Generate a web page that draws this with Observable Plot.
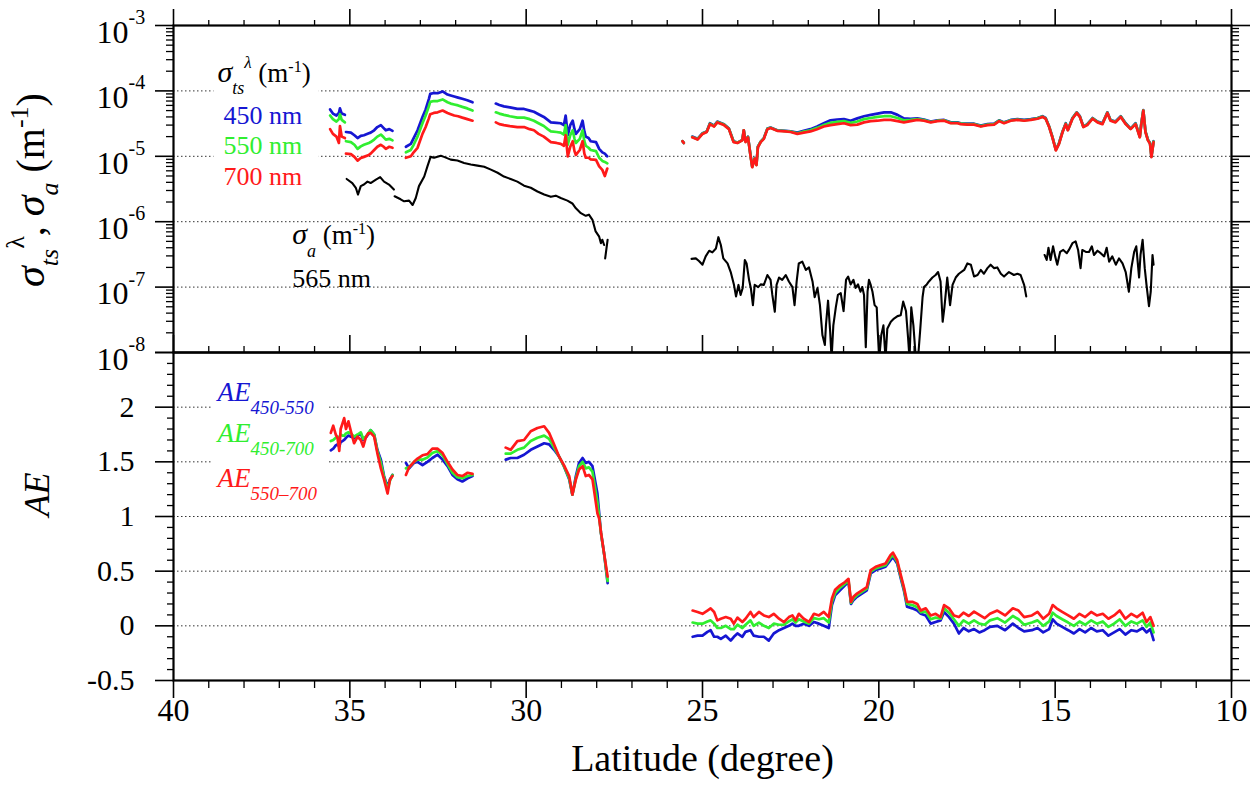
<!DOCTYPE html>
<html><head><meta charset="utf-8">
<script src="https://cdn.jsdelivr.net/npm/d3@7"></script>
<script src="https://cdn.jsdelivr.net/npm/@observablehq/plot@0.6"></script>
<style>
html,body{margin:0;padding:0;background:#fff;}
#wrap{position:relative;width:1260px;height:794px;overflow:hidden;background:#fff;}
#top{position:absolute;left:0;top:0;z-index:2;}
#bot{position:absolute;left:0;top:351px;z-index:1;}
</style></head><body><div id="wrap"><div id="top"></div><div id="bot"></div></div>
<script>
// ---------------- axis ticks / labels ----------------
const xMajor = [40, 35, 30, 25, 20, 15, 10];
const xLabels = ["40", "35", "30", "25", "20", "15", "10"];
const xMinor = [39,38,37,36,34,33,32,31,29,28,27,26,24,23,22,21,19,18,17,16,14,13,12,11];
const yTopMajor = [1e-8, 1e-7, 1e-6, 1e-5, 1e-4, 1e-3];
const yTopBase = ["10", "10", "10", "10", "10", "10"];
const yTopExp = ["-8", "-7", "-6", "-5", "-4", "-3"];
const gridTop = [1e-7, 1e-6, 1e-5, 1e-4];
const yBotMajor = [-0.5, 0, 0.5, 1, 1.5, 2, 2.5];
const yBotLabelVals = [-0.5, 0, 0.5, 1, 1.5, 2];
const yBotLabels = ["-0.5", "0", "0.5", "1", "1.5", "2"];
const gridBot = [0, 0.5, 1, 1.5, 2];

// ---------------- sigma_ts (scattering), left segments ----------------
const latA = [35.56, 35.48, 35.38, 35.31, 35.28, 35.23, 35.14];
const s450A = [5.2e-5, 4.5e-5, 4.2e-5, 4.6e-5, 5.4e-5, 4.5e-5, 4.3e-5];
const s550A = [4.2e-5, 3.7e-5, 3.4e-5, 3.7e-5, 4.4e-5, 3.6e-5, 3.3e-5];
const s700A = [2.6e-5, 2.2e-5, 2.0e-5, 1.6e-5, 2.9e-5, 2.0e-5, 1.9e-5];

const latB = [35.11, 34.97, 34.87, 34.78, 34.69, 34.60, 34.46, 34.41, 34.31, 34.22, 34.12, 34.04, 33.98, 33.88, 33.79];
const s450B = [2.35e-5, 2.3e-5, 2.1e-5, 1.9e-5, 2.05e-5, 2.1e-5, 2.25e-5, 2.3e-5, 2.5e-5, 2.8e-5, 3.0e-5, 2.7e-5, 2.5e-5, 2.6e-5, 2.45e-5];
const s550B = [1.7e-5, 1.65e-5, 1.5e-5, 1.3e-5, 1.42e-5, 1.5e-5, 1.6e-5, 1.65e-5, 1.8e-5, 2.0e-5, 2.15e-5, 1.95e-5, 1.8e-5, 1.85e-5, 1.75e-5];
const s700B = [1.1e-5, 1.08e-5, 9.8e-6, 8.6e-6, 9.4e-6, 9.8e-6, 1.05e-5, 1.1e-5, 1.25e-5, 1.4e-5, 1.5e-5, 1.4e-5, 1.3e-5, 1.4e-5, 1.35e-5];

const latC = [33.41, 33.27, 33.19, 33.08, 32.94, 32.85, 32.76, 32.72, 32.62, 32.51, 32.37, 32.23, 32.14, 32.04, 31.93, 31.81, 31.67, 31.52];
const s450C = [1.4e-5, 1.55e-5, 1.9e-5, 2.5e-5, 4.0e-5, 5.2e-5, 7.5e-5, 9.0e-5, 9.3e-5, 9.2e-5, 9.8e-5, 8.8e-5, 8.5e-5, 8.2e-5, 7.9e-5, 7.6e-5, 7.2e-5, 6.7e-5];
const s550C = [1.15e-5, 1.25e-5, 1.5e-5, 2.0e-5, 3.2e-5, 4.2e-5, 5.8e-5, 6.8e-5, 7.0e-5, 7.0e-5, 7.4e-5, 6.7e-5, 6.4e-5, 6.2e-5, 6.0e-5, 5.7e-5, 5.4e-5, 5.0e-5];
const s700C = [9.5e-6, 1.0e-5, 1.15e-5, 1.35e-5, 2.2e-5, 2.8e-5, 3.8e-5, 4.4e-5, 4.6e-5, 4.7e-5, 5.0e-5, 4.6e-5, 4.4e-5, 4.2e-5, 4.1e-5, 3.9e-5, 3.7e-5, 3.5e-5];

const latD = [30.86, 30.76, 30.63, 30.46, 30.25, 30.06, 29.90, 29.78, 29.65, 29.50, 29.39, 29.30, 29.14, 29.02, 28.93, 28.88, 28.82, 28.75, 28.68, 28.63, 28.59, 28.48, 28.40, 28.35, 28.31, 28.23, 28.17, 28.02, 27.93, 27.84, 27.77, 27.70];
const s450D = [6.4e-5, 6.1e-5, 5.8e-5, 5.6e-5, 5.3e-5, 5.3e-5, 5.0e-5, 4.8e-5, 4.4e-5, 4.0e-5, 3.6e-5, 3.3e-5, 3.25e-5, 3.2e-5, 3.0e-5, 4.2e-5, 2.1e-5, 3.0e-5, 3.5e-5, 2.6e-5, 2.2e-5, 2.6e-5, 3.5e-5, 2.4e-5, 2.0e-5, 1.9e-5, 1.7e-5, 1.65e-5, 1.3e-5, 1.15e-5, 1.1e-5, 1.0e-5];
const s550D = [4.7e-5, 4.5e-5, 4.3e-5, 4.1e-5, 3.9e-5, 3.9e-5, 3.7e-5, 3.5e-5, 3.2e-5, 2.9e-5, 2.6e-5, 2.4e-5, 2.35e-5, 2.3e-5, 2.15e-5, 3.0e-5, 1.5e-5, 2.1e-5, 2.5e-5, 1.85e-5, 1.6e-5, 1.85e-5, 2.5e-5, 1.7e-5, 1.45e-5, 1.35e-5, 1.25e-5, 1.2e-5, 9.5e-6, 8.5e-6, 8.2e-6, 7.8e-6];
const s700D = [3.3e-5, 3.1e-5, 3.0e-5, 2.9e-5, 2.8e-5, 2.8e-5, 2.6e-5, 2.5e-5, 2.2e-5, 2.0e-5, 1.8e-5, 1.65e-5, 1.6e-5, 1.55e-5, 1.45e-5, 2.1e-5, 1.0e-5, 1.4e-5, 1.7e-5, 1.2e-5, 1.05e-5, 1.25e-5, 1.7e-5, 1.1e-5, 9.5e-6, 9.5e-6, 9.0e-6, 8.8e-6, 7.0e-6, 6.2e-6, 5.0e-6, 6.5e-6];

// ---------------- sigma_ts, right segments ----------------
const latDot = [25.57, 25.53];
const s450Dot = [1.7e-5, 1.6e-5];
const s550Dot = [1.7e-5, 1.6e-5];
const s700Dot = [1.7e-5, 1.6e-5];

const latR = [25.29, 25.14, 25.0, 24.88, 24.79, 24.67, 24.58, 24.39, 24.25, 24.12,
  24.01, 23.87, 23.83, 23.78, 23.71, 23.64, 23.59, 23.52, 23.47, 23.43,
  23.35, 23.26, 23.16, 23.07, 22.88, 22.65, 22.5, 22.31, 22.13, 21.94,
  21.75, 21.56, 21.37, 21.18, 20.99, 20.8, 20.61, 20.42, 20.23, 20.04,
  19.85, 19.66, 19.47, 19.29, 19.1, 18.91, 18.72, 18.53, 18.34, 18.15,
  17.96, 17.77, 17.68, 17.49, 17.3, 17.11, 16.92, 16.73, 16.59, 16.45,
  16.26, 16.07, 15.88, 15.69, 15.5, 15.36, 15.27, 15.17, 15.08, 14.98,
  14.89, 14.79, 14.7, 14.64, 14.51, 14.39, 14.3, 14.2, 14.09, 13.94,
  13.8, 13.66, 13.52, 13.43, 13.29, 13.14, 13.0, 12.86, 12.72, 12.6,
  12.56, 12.5, 12.44, 12.37, 12.31, 12.27, 12.21];
const s700R = [1.95e-5, 1.8e-5, 2.2e-5, 2.35e-5, 3.1e-5, 2.85e-5, 3.3e-5, 3.0e-5, 2.6e-5, 1.65e-5,
  1.6e-5, 1.75e-5, 2.5e-5, 1.65e-5, 1.95e-5, 1.03e-5, 6.8e-6, 9.2e-6, 7.3e-6, 1.37e-5,
  1.65e-5, 1.85e-5, 2.6e-5, 2.7e-5, 2.45e-5, 2.4e-5, 2.35e-5, 2.2e-5, 2.3e-5, 2.4e-5,
  2.6e-5, 2.85e-5, 3.0e-5, 3.1e-5, 3.2e-5, 3.0e-5, 3.05e-5, 3.3e-5, 3.45e-5, 3.5e-5,
  3.6e-5, 3.6e-5, 3.45e-5, 3.3e-5, 3.45e-5, 3.6e-5, 3.5e-5, 3.3e-5, 3.45e-5, 3.5e-5,
  3.2e-5, 3.2e-5, 3.1e-5, 3.05e-5, 3.05e-5, 2.85e-5, 3.0e-5, 3.05e-5, 3.45e-5, 3.2e-5,
  3.5e-5, 3.6e-5, 3.5e-5, 3.6e-5, 3.75e-5, 4.0e-5, 3.75e-5, 2.8e-5, 1.95e-5, 1.23e-5,
  1.55e-5, 2.35e-5, 3.1e-5, 2.5e-5, 3.75e-5, 4.6e-5, 4.0e-5, 2.8e-5, 3.0e-5, 3.75e-5,
  3.3e-5, 3.1e-5, 4.6e-5, 3.5e-5, 3.3e-5, 4.0e-5, 3.1e-5, 2.6e-5, 3.1e-5, 1.95e-5,
  3.0e-5, 5.0e-5, 2.35e-5, 1.75e-5, 1.55e-5, 9.7e-6, 1.65e-5];
const s450R = [2.0e-5, 1.85e-5, 2.25e-5, 2.4e-5, 3.2e-5, 2.95e-5, 3.4e-5, 3.1e-5, 2.65e-5, 1.7e-5,
  1.62e-5, 1.78e-5, 2.5e-5, 1.7e-5, 2.0e-5, 1.05e-5, 7.0e-6, 9.4e-6, 7.5e-6, 1.4e-5,
  1.68e-5, 1.9e-5, 2.65e-5, 2.75e-5, 2.5e-5, 2.45e-5, 2.4e-5, 2.3e-5, 2.45e-5, 2.6e-5,
  2.85e-5, 3.2e-5, 3.55e-5, 3.65e-5, 3.7e-5, 3.5e-5, 3.8e-5, 4.1e-5, 4.3e-5, 4.5e-5,
  4.7e-5, 4.7e-5, 4.3e-5, 3.8e-5, 3.75e-5, 3.8e-5, 3.65e-5, 3.4e-5, 3.55e-5, 3.6e-5,
  3.3e-5, 3.3e-5, 3.2e-5, 3.15e-5, 3.15e-5, 2.95e-5, 3.1e-5, 3.15e-5, 3.55e-5, 3.3e-5,
  3.6e-5, 3.7e-5, 3.6e-5, 3.7e-5, 3.85e-5, 4.1e-5, 3.85e-5, 2.85e-5, 2.0e-5, 1.26e-5,
  1.6e-5, 2.4e-5, 3.2e-5, 2.55e-5, 3.85e-5, 4.7e-5, 4.1e-5, 2.85e-5, 3.1e-5, 3.85e-5,
  3.4e-5, 3.2e-5, 4.7e-5, 3.6e-5, 3.4e-5, 4.1e-5, 3.2e-5, 2.65e-5, 3.2e-5, 2.0e-5,
  3.1e-5, 5.1e-5, 2.4e-5, 1.8e-5, 1.6e-5, 1.0e-5, 1.7e-5];
const s550R = [1.98e-5, 1.83e-5, 2.23e-5, 2.38e-5, 3.15e-5, 2.9e-5, 3.35e-5, 3.05e-5, 2.63e-5, 1.68e-5,
  1.61e-5, 1.77e-5, 2.5e-5, 1.68e-5, 1.98e-5, 1.04e-5, 6.9e-6, 9.3e-6, 7.4e-6, 1.39e-5,
  1.67e-5, 1.88e-5, 2.63e-5, 2.73e-5, 2.48e-5, 2.43e-5, 2.38e-5, 2.25e-5, 2.38e-5, 2.5e-5,
  2.72e-5, 3.0e-5, 3.25e-5, 3.35e-5, 3.45e-5, 3.25e-5, 3.4e-5, 3.7e-5, 3.85e-5, 4.0e-5,
  4.1e-5, 4.1e-5, 3.85e-5, 3.55e-5, 3.6e-5, 3.7e-5, 3.58e-5, 3.35e-5, 3.5e-5, 3.55e-5,
  3.25e-5, 3.25e-5, 3.15e-5, 3.1e-5, 3.1e-5, 2.9e-5, 3.05e-5, 3.1e-5, 3.5e-5, 3.25e-5,
  3.55e-5, 3.65e-5, 3.55e-5, 3.65e-5, 3.8e-5, 4.05e-5, 3.8e-5, 2.83e-5, 1.98e-5, 1.25e-5,
  1.58e-5, 2.38e-5, 3.15e-5, 2.53e-5, 3.8e-5, 4.65e-5, 4.05e-5, 2.83e-5, 3.05e-5, 3.8e-5,
  3.35e-5, 3.15e-5, 4.65e-5, 3.55e-5, 3.35e-5, 4.05e-5, 3.15e-5, 2.63e-5, 3.15e-5, 1.98e-5,
  3.05e-5, 5.05e-5, 2.38e-5, 1.78e-5, 1.58e-5, 9.9e-6, 1.68e-5];

// ---------------- sigma_a (absorption, 565 nm) ----------------
const latK1 = [35.09, 34.93, 34.83, 34.77, 34.69, 34.60, 34.50, 34.41, 34.26, 34.14, 34.03, 33.89, 33.75];
const sa1 = [4.5e-6, 3.9e-6, 3.3e-6, 2.6e-6, 3.5e-6, 3.7e-6, 4.1e-6, 3.9e-6, 4.4e-6, 4.8e-6, 4.1e-6, 3.7e-6, 3.1e-6];
const latK2 = [33.73, 33.56, 33.46, 33.32, 33.22, 33.13, 33.04, 32.89, 32.80, 32.71,
  32.61, 32.42, 32.33, 32.14, 31.95, 31.76, 31.57, 31.38, 31.19, 31.00,
  30.81, 30.63, 30.44, 30.25, 30.06, 29.87, 29.68, 29.49, 29.30, 29.16,
  29.02, 28.83, 28.69, 28.59, 28.45, 28.31, 28.22, 28.12, 28.03, 27.93,
  27.88, 27.84, 27.79];
const sa2 = [2.45e-6, 2.2e-6, 2.05e-6, 2.1e-6, 1.8e-6, 2.3e-6, 3.5e-6, 4.9e-6, 7.0e-6, 9.8e-6,
  9.5e-6, 1.02e-5, 9.8e-6, 8.9e-6, 8.6e-6, 7.9e-6, 7.5e-6, 7.2e-6, 6.9e-6, 6.25e-6,
  5.6e-6, 4.9e-6, 4.5e-6, 4.1e-6, 3.55e-6, 3.3e-6, 2.9e-6, 2.6e-6, 2.4e-6, 2.5e-6,
  2.3e-6, 2.1e-6, 1.9e-6, 1.6e-6, 1.35e-6, 1.23e-6, 1.28e-6, 1.07e-6, 7.1e-7, 5.9e-7,
  4.7e-7, 5.3e-7, 4.4e-7];
const latK3 = [27.76, 27.69];
const sa3 = [2.75e-7, 5.3e-7];
const latK4 = [25.31, 25.19, 25.1, 25.0, 24.91, 24.81, 24.72, 24.62, 24.55, 24.48,
  24.41, 24.29, 24.2, 24.11, 24.05, 23.98, 23.92, 23.86, 23.8, 23.75,
  23.68, 23.63, 23.57, 23.52, 23.42, 23.35, 23.26, 23.16, 23.07, 23.02,
  22.95, 22.9, 22.83, 22.74, 22.64, 22.55, 22.45, 22.39, 22.33, 22.27,
  22.17, 22.07, 21.98, 21.88, 21.82, 21.74, 21.67, 21.6, 21.53, 21.5,
  21.44, 21.38, 21.34, 21.29, 21.22, 21.16, 21.08, 21.0, 20.93, 20.87,
  20.8, 20.72, 20.66, 20.59, 20.52, 20.47, 20.42, 20.37, 20.32, 20.28,
  20.23, 20.18, 20.12, 20.06, 20.03, 19.99, 19.93, 19.87, 19.81, 19.76,
  19.66, 19.57, 19.47, 19.38, 19.31, 19.23, 19.17, 19.13, 19.08, 19.02,
  18.95, 18.89, 18.83, 18.76, 18.72, 18.64, 18.58, 18.48, 18.39, 18.32,
  18.25, 18.19, 18.14, 18.06, 17.98, 17.91, 17.82, 17.73, 17.58, 17.49,
  17.39, 17.3, 17.2, 17.11, 17.02, 16.92, 16.83, 16.73, 16.64, 16.54,
  16.45, 16.31, 16.17, 16.07, 15.98, 15.88, 15.82];
const sa4 = [2.7e-7, 2.75e-7, 2.5e-7, 2.2e-7, 2.95e-7, 3.6e-7, 3.4e-7, 3.9e-7, 5.8e-7, 4.4e-7,
  2.75e-7, 2.3e-7, 1.7e-7, 1.1e-7, 7.2e-8, 1.08e-7, 7.6e-8, 9.7e-8, 2.6e-7, 2.3e-7,
  1.29e-7, 9.7e-8, 5.3e-8, 1.08e-7, 1.0e-7, 1.1e-7, 1.08e-7, 1.53e-7, 1.29e-7, 7.6e-8,
  4.2e-8, 1.08e-7, 1.4e-7, 1.29e-7, 1.53e-7, 1.22e-7, 1.0e-7, 5.3e-8, 1.22e-7, 2.3e-7,
  2.45e-7, 1.83e-7, 2.0e-7, 1.22e-7, 7e-8, 9.7e-8, 5.3e-8, 1.85e-8, 1.3e-8, 2.6e-8,
  6.2e-8, 2.1e-8, 8e-9, 2.6e-8, 4.9e-8, 7.6e-8, 8.1e-8, 4.3e-8, 1.29e-7, 1.45e-7,
  1.1e-7, 1.29e-7, 9.7e-8, 1.1e-7, 8.5e-8, 1.0e-7, 7.6e-8, 1.2e-8, 8.5e-8, 1.29e-7,
  1.08e-7, 8.5e-8, 5.3e-8, 4.9e-8, 2.1e-8, 8e-9, 1.85e-8, 2.6e-8, 8e-9, 2.3e-8,
  2.95e-8, 3.3e-8, 3.6e-8, 3.7e-8, 6.0e-8, 4.3e-8, 1.65e-8, 8e-9, 4.9e-8, 2.6e-8,
  8e-9, 8e-9, 2.1e-8, 7e-8, 1.0e-7, 1.1e-7, 1.22e-7, 1.4e-7, 1.53e-7, 1.7e-7,
  1.22e-7, 2.95e-8, 4.9e-8, 1.4e-7, 5.3e-8, 1.08e-7, 1.4e-7, 1.6e-7, 1.83e-7, 2.3e-7,
  2.2e-7, 1.45e-7, 1.53e-7, 1.83e-7, 1.6e-7, 1.95e-7, 2.2e-7, 1.95e-7, 2.0e-7, 1.6e-7,
  1.45e-7, 1.7e-7, 1.53e-7, 1.6e-7, 1.53e-7, 1.08e-7, 7.2e-8];
const latK5 = [15.3, 15.24, 15.19, 15.13, 15.06, 15.0, 14.94, 14.86, 14.77, 14.67,
  14.61, 14.51, 14.42, 14.35, 14.28, 14.23, 14.13, 14.04, 13.96, 13.9,
  13.8, 13.71, 13.61, 13.54, 13.47, 13.38, 13.28, 13.19, 13.09, 13.0,
  12.91, 12.84, 12.76, 12.7, 12.62, 12.58, 12.52, 12.46, 12.41, 12.34,
  12.29, 12.24, 12.21];
const sa5 = [3.1e-7, 2.6e-7, 4.0e-7, 2.6e-7, 4.2e-7, 2.95e-7, 2.2e-7, 3.45e-7, 3.7e-7, 3.3e-7,
  3.7e-7, 4.7e-7, 5.0e-7, 3.7e-7, 1.95e-7, 3.7e-7, 3.45e-7, 3.45e-7, 4.2e-7, 3.1e-7,
  3.6e-7, 3.3e-7, 2.95e-7, 4.0e-7, 2.45e-7, 2.95e-7, 2.2e-7, 2.75e-7, 2.3e-7, 1.7e-7,
  8.5e-8, 1.95e-7, 3.45e-7, 4.2e-7, 1.4e-7, 3.1e-7, 5.3e-7, 1.95e-7, 1.08e-7, 5.1e-8,
  8.5e-8, 3.1e-7, 2.2e-7];

// ---------------- Angstrom exponents ----------------
const latE1 = [35.54, 35.47, 35.40, 35.35, 35.30, 35.26, 35.21, 35.16, 35.11, 35.04, 34.97, 34.88, 34.78, 34.69, 34.62, 34.55, 34.48, 34.41, 34.31, 34.22, 34.12, 34.03, 33.93, 33.86, 33.79];
const aeB1 = [1.605, 1.62, 1.65, 1.66, 1.64, 1.68, 1.69, 1.70, 1.72, 1.74, 1.73, 1.72, 1.74, 1.76, 1.70, 1.72, 1.75, 1.79, 1.75, 1.61, 1.52, 1.37, 1.27, 1.34, 1.38];
const aeG1 = [1.69, 1.70, 1.72, 1.73, 1.72, 1.75, 1.74, 1.74, 1.76, 1.77, 1.76, 1.73, 1.75, 1.77, 1.71, 1.73, 1.76, 1.79, 1.75, 1.60, 1.49, 1.36, 1.25, 1.33, 1.38];
const aeR1 = [1.765, 1.83, 1.75, 1.72, 1.60, 1.80, 1.85, 1.90, 1.80, 1.87, 1.78, 1.67, 1.73, 1.70, 1.64, 1.72, 1.76, 1.765, 1.73, 1.58, 1.44, 1.34, 1.21, 1.34, 1.37];

const latE2 = [33.41, 33.32, 33.18, 33.08, 32.94, 32.80, 32.66, 32.51, 32.37, 32.23, 32.09, 31.95, 31.81, 31.66, 31.52];
const aeB2 = [1.49, 1.44, 1.49, 1.50, 1.47, 1.50, 1.535, 1.565, 1.52, 1.46, 1.38, 1.34, 1.32, 1.35, 1.37];
const aeG2 = [1.44, 1.45, 1.50, 1.52, 1.52, 1.54, 1.58, 1.60, 1.56, 1.48, 1.40, 1.36, 1.35, 1.37, 1.38];
const aeR2 = [1.38, 1.45, 1.50, 1.53, 1.56, 1.57, 1.62, 1.62, 1.58, 1.50, 1.43, 1.38, 1.37, 1.40, 1.39];

const latE3 = [30.58, 30.44, 30.25, 30.06, 29.87, 29.68, 29.49, 29.35, 29.21, 29.07, 28.93, 28.78, 28.69, 28.59, 28.50, 28.40, 28.31, 28.22, 28.12, 27.98, 27.93, 27.88, 27.79, 27.69];
const aeB3 = [1.52, 1.535, 1.535, 1.565, 1.61, 1.64, 1.67, 1.66, 1.61, 1.55, 1.46, 1.34, 1.20, 1.37, 1.49, 1.535, 1.49, 1.50, 1.46, 1.21, 1.03, 0.85, 0.66, 0.39];
const aeG3 = [1.575, 1.575, 1.61, 1.63, 1.69, 1.72, 1.74, 1.71, 1.63, 1.55, 1.46, 1.35, 1.20, 1.35, 1.46, 1.50, 1.44, 1.45, 1.41, 1.13, 1.00, 0.85, 0.66, 0.41];
const aeR3 = [1.63, 1.61, 1.69, 1.70, 1.78, 1.81, 1.825, 1.765, 1.66, 1.55, 1.47, 1.37, 1.20, 1.34, 1.43, 1.46, 1.37, 1.38, 1.34, 1.03, 0.98, 0.86, 0.66, 0.45];

const latE4 = [25.28, 25.14, 25.0, 24.86, 24.77, 24.67, 24.58, 24.48, 24.34, 24.2,
  24.11, 24.01, 23.87, 23.78, 23.64, 23.55, 23.4, 23.26, 23.12, 22.98,
  22.83, 22.69, 22.55, 22.45, 22.36, 22.27, 22.13, 21.98, 21.84, 21.7,
  21.56, 21.42, 21.33, 21.24, 21.1, 20.96, 20.86, 20.79, 20.72, 20.62,
  20.48, 20.34, 20.23, 20.09, 19.95, 19.81, 19.67, 19.6, 19.48, 19.39,
  19.29, 19.2, 19.05, 18.91, 18.81, 18.67, 18.53, 18.39, 18.25, 18.15,
  18.01, 17.87, 17.73, 17.6, 17.45, 17.3, 17.15, 17.0, 16.85, 16.64,
  16.42, 16.2, 16.04, 15.88, 15.66, 15.5, 15.34, 15.17, 15.07, 14.96,
  14.8, 14.63, 14.47, 14.31, 14.15, 13.98, 13.82, 13.65, 13.49, 13.33,
  13.17, 13.01, 12.84, 12.68, 12.52, 12.41, 12.3, 12.21];
const aeR4 = [0.14, 0.127, 0.11, 0.14, 0.16, 0.127, 0.05, 0.065, 0.08, 0.065,
  0.02, 0.075, 0.035, 0.065, 0.127, 0.08, 0.127, 0.095, 0.08, 0.11,
  0.065, 0.035, 0.08, 0.095, 0.05, 0.11, 0.065, 0.035, 0.11, 0.095,
  0.127, 0.08, 0.25, 0.33, 0.37, 0.40, 0.43, 0.22, 0.265, 0.295,
  0.325, 0.355, 0.51, 0.54, 0.555, 0.57, 0.647, 0.67, 0.60, 0.48,
  0.355, 0.22, 0.22, 0.20, 0.14, 0.16, 0.095, 0.11, 0.08, 0.19,
  0.16, 0.095, 0.08, 0.12, 0.09, 0.13, 0.10, 0.07, 0.11, 0.14,
  0.095, 0.16, 0.14, 0.08, 0.095, 0.127, 0.065, 0.11, 0.19, 0.16,
  0.127, 0.095, 0.065, 0.11, 0.08, 0.127, 0.095, 0.11, 0.065, 0.095,
  0.14, 0.065, 0.11, 0.08, 0.12, 0.035, 0.08, 0.0];
const aeB4 = [-0.10, -0.09, -0.09, -0.055, -0.04, -0.10, -0.10, -0.12, -0.09, -0.135,
  -0.10, -0.07, -0.10, -0.055, -0.04, -0.09, -0.10, -0.10, -0.135, -0.07,
  -0.04, -0.02, 0.0, 0.02, 0.0, 0.0, 0.02, 0.0, 0.035, 0.02,
  0.0, -0.02, 0.19, 0.28, 0.325, 0.37, 0.40, 0.20, 0.235, 0.265,
  0.295, 0.325, 0.48, 0.51, 0.525, 0.54, 0.60, 0.63, 0.57, 0.45,
  0.325, 0.175, 0.16, 0.14, 0.11, 0.095, 0.02, 0.035, 0.05, 0.127,
  0.08, 0.02, -0.07, -0.02, -0.05, -0.03, -0.06, -0.04, -0.01, 0.0,
  -0.04, 0.02, -0.02, -0.05, -0.04, -0.02, -0.06, -0.03, 0.06, 0.02,
  -0.01, -0.04, -0.07, -0.03, -0.06, -0.02, -0.05, -0.04, -0.09, -0.06,
  -0.03, -0.08, -0.04, -0.05, -0.02, -0.06, -0.03, -0.13];
const aeG4 = [0.03, 0.02, 0.02, 0.04, 0.05, 0.02, -0.02, -0.02, 0.0, -0.03,
  -0.03, 0.01, -0.02, 0.01, 0.05, 0.0, 0.03, 0.0, -0.02, 0.02,
  0.01, 0.01, 0.04, 0.06, 0.03, 0.06, 0.04, 0.02, 0.07, 0.06,
  0.07, 0.03, 0.22, 0.30, 0.35, 0.385, 0.415, 0.21, 0.25, 0.28,
  0.31, 0.34, 0.495, 0.525, 0.54, 0.555, 0.625, 0.65, 0.585, 0.465,
  0.34, 0.20, 0.19, 0.17, 0.125, 0.13, 0.06, 0.075, 0.065, 0.16,
  0.12, 0.06, 0.0, 0.05, 0.02, 0.05, 0.02, 0.01, 0.05, 0.07,
  0.03, 0.09, 0.06, 0.01, 0.03, 0.05, 0.0, 0.04, 0.12, 0.09,
  0.06, 0.03, 0.0, 0.04, 0.01, 0.05, 0.02, 0.04, -0.01, 0.02,
  0.06, 0.0, 0.04, 0.02, 0.05, -0.01, 0.03, -0.06];

// ---------------- helpers ----------------
const SERIF = "'Liberation Serif','Times New Roman',Times,serif";
const BLUE = "#1616d2", GREEN = "#30ee30", RED = "#ff1a1a";
function seg(lats, vals, s) { return lats.map((lat, i) => ({lat, v: vals[i], s})); }
const stsBlue = [...seg(latA, s450A, "A"), ...seg(latB, s450B, "B"), ...seg(latC, s450C, "C"), ...seg(latD, s450D, "D"), ...seg(latDot, s450Dot, "E"), ...seg(latR, s450R, "F")];
const stsGreen = [...seg(latA, s550A, "A"), ...seg(latB, s550B, "B"), ...seg(latC, s550C, "C"), ...seg(latD, s550D, "D"), ...seg(latDot, s550Dot, "E"), ...seg(latR, s550R, "F")];
const stsRed = [...seg(latA, s700A, "A"), ...seg(latB, s700B, "B"), ...seg(latC, s700C, "C"), ...seg(latD, s700D, "D"), ...seg(latDot, s700Dot, "E"), ...seg(latR, s700R, "F")];
const saBlack = [...seg(latK1, sa1, "1"), ...seg(latK2, sa2, "2"), ...seg(latK3, sa3, "3"), ...seg(latK4, sa4, "4"), ...seg(latK5, sa5, "5")];
const aeBlue = [...seg(latE1, aeB1, "1"), ...seg(latE2, aeB2, "2"), ...seg(latE3, aeB3, "3"), ...seg(latE4, aeB4, "4")];
const aeGreen = [...seg(latE1, aeG1, "1"), ...seg(latE2, aeG2, "2"), ...seg(latE3, aeG3, "3"), ...seg(latE4, aeG4, "4")];
const aeRed = [...seg(latE1, aeR1, "1"), ...seg(latE2, aeR2, "2"), ...seg(latE3, aeR3, "3"), ...seg(latE4, aeR4, "4")];

const yTopMinor = [];
for (let k = -8; k <= -4; k++) for (let m = 2; m <= 9; m++) yTopMinor.push(m * Math.pow(10, k));
const yBotMinor = [];
for (let i = -4; i <= 24; i++) if (i % 5 !== 0) yBotMinor.push(i / 10);

const lineOpts = (c, w) => ({x: "lat", y: "v", z: "s", stroke: c, strokeWidth: w, clip: true, strokeLinejoin: "round"});
const tk = {fill: "none", label: null, strokeWidth: 1.6};
const tkm = {fill: "none", label: null, strokeWidth: 1.3};

// ---------------- top panel ----------------
const topPlot = Plot.plot({
  width: 1260, height: 353,
  marginTop: 25, marginBottom: 1, marginLeft: 173, marginRight: 29,
  style: {background: "transparent", overflow: "visible", fontFamily: SERIF},
  x: {domain: [40, 10]},
  y: {type: "log", domain: [1e-8, 1e-3]},
  marks: [
    Plot.ruleY(gridTop, {stroke: "#333", strokeWidth: 1, strokeDasharray: "1.5,2.5"}),
    Plot.line(stsBlue, lineOpts(BLUE, 2.7)),
    Plot.line(stsGreen, lineOpts(GREEN, 2.7)),
    Plot.line(stsRed, lineOpts(RED, 2.7)),
    Plot.line(saBlack, lineOpts("#000", 2.1)),
    Plot.frame({stroke: "#000", strokeWidth: 2.2}),
    Plot.axisY(yTopMajor, {anchor: "left", tickSize: 18, ...tk}),
    Plot.axisY(yTopMinor, {anchor: "left", tickSize: 7, ...tkm}),
    Plot.axisY(yTopMajor, {anchor: "right", tickSize: 18, ...tk}),
    Plot.axisY(yTopMinor, {anchor: "right", tickSize: 7, ...tkm}),
    Plot.axisX(xMajor, {anchor: "top", tickSize: 17, ...tk}),
    Plot.axisX(xMinor, {anchor: "top", tickSize: 6, ...tkm}),
    Plot.text(yTopMajor, {y: d => d, text: (d, i) => yTopBase[i], frameAnchor: "left", textAnchor: "end", dx: -45, dy: 7, fontSize: 32, fontFamily: SERIF}),
    Plot.text(yTopMajor, {y: d => d, text: (d, i) => yTopExp[i], frameAnchor: "left", textAnchor: "start", dx: -45, dy: -8, fontSize: 20, fontFamily: SERIF})
  ]
});
document.getElementById("top").appendChild(topPlot);

// ---------------- bottom panel ----------------
const botPlot = Plot.plot({
  width: 1260, height: 443,
  marginTop: 1, marginBottom: 114, marginLeft: 173, marginRight: 29,
  style: {background: "transparent", overflow: "visible", fontFamily: SERIF},
  x: {domain: [40, 10]},
  y: {domain: [-0.5, 2.5]},
  marks: [
    Plot.ruleY(gridBot, {stroke: "#333", strokeWidth: 1, strokeDasharray: "1.5,2.5"}),
    Plot.line(aeBlue, lineOpts(BLUE, 2.7)),
    Plot.line(aeGreen, lineOpts(GREEN, 2.7)),
    Plot.line(aeRed, lineOpts(RED, 2.7)),
    Plot.frame({stroke: "#000", strokeWidth: 2.2}),
    Plot.axisY(yBotMajor, {anchor: "left", tickSize: 18, ...tk}),
    Plot.axisY(yBotMinor, {anchor: "left", tickSize: 6, ...tkm}),
    Plot.axisY(yBotMajor, {anchor: "right", tickSize: 18, ...tk}),
    Plot.axisY(yBotMinor, {anchor: "right", tickSize: 7, ...tkm}),
    Plot.axisX(xMajor, {anchor: "top", tickSize: 18, ...tk}),
    Plot.axisX(xMinor, {anchor: "top", tickSize: 7, ...tkm}),
    Plot.axisX(xMajor, {anchor: "bottom", tickSize: 18, ...tk}),
    Plot.axisX(xMinor, {anchor: "bottom", tickSize: 8, ...tkm}),
    Plot.text(yBotLabelVals, {y: d => d, text: (d, i) => yBotLabels[i], frameAnchor: "left", textAnchor: "end", dx: -39, fontSize: 30, fontFamily: SERIF}),
    Plot.text(xMajor, {x: d => d, text: (d, i) => xLabels[i], frameAnchor: "bottom", dy: 40, fontSize: 32, fontFamily: SERIF}),
    Plot.text(["Latitude (degree)"], {frameAnchor: "bottom", dy: 90, fontSize: 38, fontFamily: SERIF}),
    Plot.text(["AE"], {frameAnchor: "left", dx: -136, rotate: -90, fontSize: 36, fontStyle: "italic", fontFamily: SERIF})
  ]
});
document.getElementById("bot").appendChild(botPlot);

// ---------------- rich-text annotations ----------------
function rich(parent, x, y, parts, opts = {}) {
  const t = parent.append("text").attr("x", x).attr("y", y)
    .attr("font-family", SERIF).attr("fill", opts.fill || "#000")
    .attr("text-anchor", opts.anchor || "start");
  if (opts.rotate) t.attr("transform", `rotate(${opts.rotate},${x},${y})`);
  let shift = 0;
  for (const p of parts) {
    const target = p.sh || 0;
    t.append("tspan").attr("dy", target - shift).attr("font-size", p.fs)
      .attr("font-style", p.it ? "italic" : "normal").text(p.t);
    shift = target;
  }
  return t;
}
function boxBehind(g, pad) {
  const b = g.node().getBBox();
  g.insert("rect", ":first-child").attr("x", b.x - pad[0]).attr("y", b.y - pad[1])
    .attr("width", b.width + pad[0] + pad[2]).attr("height", b.height + pad[1] + pad[3]).attr("fill", "#fff");
}

// annotation anchors (data coordinates)
const annTop = {lat: 38.74, sts: 1.34e-4};
const annNm = [{lat: 38.57, v: 3.03e-5, t: "450 nm", c: BLUE}, {lat: 38.57, v: 1.05e-5, t: "550 nm", c: GREEN}, {lat: 38.57, v: 3.64e-6, t: "700 nm", c: RED}];
const annSa = {lat: 36.62, v: 4.53e-7, v2: 9.9e-8};
const annAE = [{lat: 38.74, v: 2.052, sub: "450-550", c: BLUE}, {lat: 38.74, v: 1.676, sub: "450-700", c: GREEN}, {lat: 38.74, v: 1.263, sub: "550\u2013700", c: RED}];

{
  const sx = topPlot.scale("x"), sy = topPlot.scale("y");
  const svg = d3.select(topPlot);
  const g = svg.append("g");
  rich(g, sx.apply(annTop.lat), sy.apply(annTop.sts), [
    {t: "\u03c3", fs: 30, it: true}, {t: "ts", fs: 18, it: true, sh: 12}, {t: "\u03bb", fs: 17, it: true, sh: -14},
    {t: " (m", fs: 27}, {t: "-1", fs: 16, sh: -10}, {t: ")", fs: 27}
  ]);
  for (const a of annNm) rich(g, sx.apply(a.lat), sy.apply(a.v), [{t: a.t, fs: 26}], {fill: a.c});
  boxBehind(g, [4, 2, 8, 3]);
  const g2 = svg.append("g");
  rich(g2, sx.apply(annSa.lat), sy.apply(annSa.v), [
    {t: "\u03c3", fs: 30, it: true}, {t: "a", fs: 18, it: true, sh: 13}, {t: " (m", fs: 27}, {t: "-1", fs: 16, sh: -10}, {t: ")", fs: 27}
  ]);
  rich(g2, sx.apply(annSa.lat), sy.apply(annSa.v2), [{t: "565 nm", fs: 26}]);
  // y-axis title
  rich(svg, 44, 190, [
    {t: "\u03c3", fs: 42, it: true}, {t: "ts", fs: 26, it: true, sh: 14}, {t: "\u03bb", fs: 26, sh: -20},
    {t: ", ", fs: 40}, {t: "\u03c3", fs: 42, it: true}, {t: "a", fs: 26, it: true, sh: 14},
    {t: " (m", fs: 40}, {t: "-1", fs: 26, sh: -16}, {t: ")", fs: 40}
  ], {anchor: "middle", rotate: -90});
}
{
  const sx = botPlot.scale("x"), sy = botPlot.scale("y");
  const g = d3.select(botPlot).append("g");
  for (const a of annAE) rich(g, sx.apply(a.lat), sy.apply(a.v), [{t: "AE", fs: 27, it: true}, {t: a.sub, fs: 19, it: true, sh: 13}], {fill: a.c});
  boxBehind(g, [4, 2, 10, 3]);
}
</script></body></html>
